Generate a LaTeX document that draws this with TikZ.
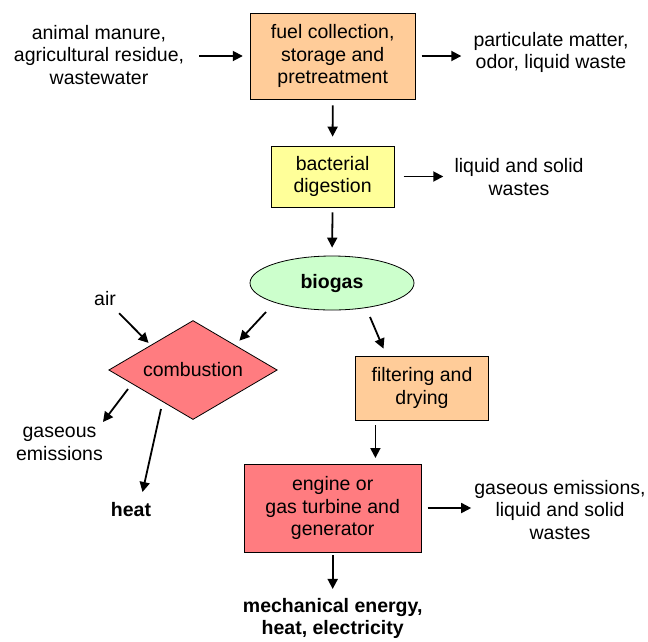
\documentclass[tikz,border=0pt]{standalone}
\usepackage{fontspec}
\setmainfont{Liberation Sans}
\usepackage{xcolor}
\usetikzlibrary{arrows.meta, positioning, shapes.geometric, calc}

\definecolor{boxorange}{HTML}{FFCC99}
\definecolor{boxyellow}{HTML}{FFFF99}
\definecolor{boxgreen}{HTML}{CCFFCC}
\definecolor{boxred}{HTML}{FF7C80}

\begin{document}
\begin{tikzpicture}[x=1pt, y=-1pt,
  every node/.style={font=\fontsize{19.5}{22.5}\selectfont},
  stage/.style={draw, line width=0.8pt, align=center, inner sep=2pt},
  txt/.style={align=center, inner sep=0pt},
  flow/.style={line width=1.8pt, -{Triangle[length=10pt,width=10pt]}}
]
\useasboundingbox (0,0) rectangle (648,641);

% process stages
\node[stage, fill=boxorange, minimum width=165pt, minimum height=86pt] (fuel) at (332.7,56) {fuel collection,\\storage and\\pretreatment};
\node[stage, fill=boxyellow, minimum width=123pt, minimum height=61pt] (digest) at (332.6,176.5) {bacterial\\digestion};
\node[stage, ellipse, fill=boxgreen, minimum width=164pt, minimum height=54pt, inner sep=0pt] (biogas) at (332,283) {\bfseries biogas};
\node[stage, diamond, fill=boxred, minimum width=168.5pt, minimum height=99pt, inner sep=0pt, aspect=1.7] (comb) at (193,370) {combustion};
\node[stage, fill=boxorange, minimum width=133pt, minimum height=64pt] (filter) at (422,388) {filtering and\\drying};
\node[stage, fill=boxred, minimum width=177pt, minimum height=88pt] (engine) at (332.7,508) {engine or\\gas turbine and\\generator};

% inputs and outputs
\node[txt] (src) at (99,55) {animal manure,\\agricultural residue,\\wastewater};
\node[txt] (pm) at (551,52.5) {particulate matter,\\odor, liquid waste};
\node[txt] (lsw) at (519,177) {liquid and solid\\wastes};
\node[txt] (air) at (105,299) {air};
\node[txt] (gas) at (59.5,444) {gaseous\\emissions};
\node[txt] (heat) at (131,510) {\bfseries heat};
\node[txt] (ge) at (560,510) {gaseous emissions,\\liquid and solid\\wastes};
\node[txt] (mech) at (332.7,618.5) {\bfseries mechanical energy,\\\bfseries heat, electricity};

% main flow
\draw[flow, shorten <=15pt, shorten >=7pt] (src.east |- fuel.west) -- (fuel.west);
\draw[flow, shorten <=6pt, shorten >=12pt] (fuel.east) -- (fuel.east -| pm.west);
\draw[flow, shorten <=6pt, shorten >=9pt] (fuel.south) -- (digest.north);
\draw[flow, shorten <=9pt, shorten >=11pt] (digest.east) -- (digest.east -| lsw.west);
\draw[flow, shorten <=5pt, shorten >=8pt] (digest.south) -- (biogas.north);

% combustion branch
\draw[flow, shorten <=20pt, shorten >=3pt] (air.center) -- (comb.north west);
\draw[flow, shorten >=6pt] ([xshift=-66pt,yshift=-29pt]biogas.center) -- (comb.north east);
\draw[flow] ([xshift=-65pt,yshift=-19pt]comb.center) -- ([xshift=43.5pt,yshift=22pt]gas.center);
\draw[flow] ([xshift=-32pt,yshift=-39pt]comb.center) -- ([xshift=11.5pt,yshift=18pt]heat.center);

% engine branch
\draw[flow] ([xshift=38pt,yshift=-34pt]biogas.center) -- ([xshift=28.4pt,yshift=7pt]filter.north west);
\draw[flow] ([xshift=-46.6pt,yshift=-37pt]filter.center) -- ([xshift=42.7pt,yshift=50pt]engine.center);
\draw[flow, shorten <=6pt, shorten >=3pt] (engine.east) -- (engine.east -| ge.west);
\draw[flow, shorten <=3pt, shorten >=9pt] (engine.south) -- (mech.north);
\end{tikzpicture}
\end{document}
